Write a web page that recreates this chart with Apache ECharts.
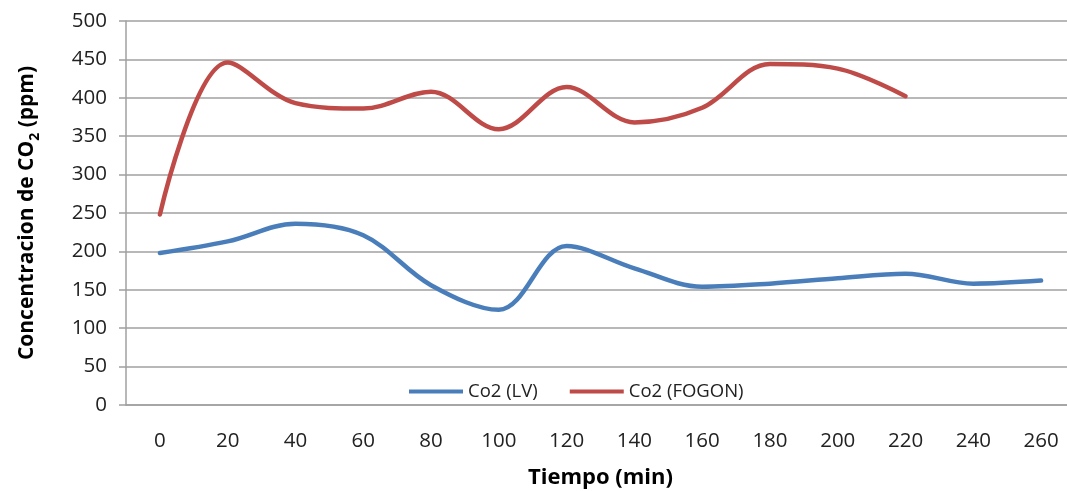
<!DOCTYPE html>
<html>
<head>
<meta charset="utf-8">
<script src="https://cdn.jsdelivr.net/npm/echarts@6/dist/echarts.min.js"></script>
<style>
  html, body { margin: 0; padding: 0; background: #fff; }
  #chart { width: 1067px; height: 491px; }
</style>
</head>
<body>
<div id="chart"></div>
<script>
// tiempo (min)
const categories = ['0', '20', '40', '60', '80', '100', '120', '140', '160', '180', '200', '220', '240', '260']
// Co2 (LV)
const lvValues = [198, 213, 236, 221, 156, 124, 207, 178, 154, 158, 165, 171, 158, 162]
// Co2 (FOGON), sin datos despues de 220
const fogonValues = [248, 446, 393, 386, 408, 359, 414, 368, 387, 444, 438, 402]

const font = 'Open Sans'
const gridColor = '#a0a0a0'

const myChart = echarts.init(document.getElementById('chart'))

const option = {
  animation: false,
  textStyle: { fontFamily: font },
  grid: { left: 126, top: 21, width: 949, height: 384, outerBoundsMode: 'none' },
  legend: {
    left: 404,
    top: 377,
    icon: 'rect',
    itemWidth: 54,
    itemHeight: 4,
    itemGap: 32,
    textStyle: { fontFamily: font, fontSize: 18.5, color: '#222' },
    data: ['Co2 (LV)', 'Co2 (FOGON)']
  },
  xAxis: {
    type: 'category',
    data: categories,
    boundaryGap: true,
    name: 'Tiempo (min)',
    nameLocation: 'middle',
    nameGap: 62,
    nameTextStyle: { fontFamily: font, fontSize: 22, fontWeight: 'bold', color: '#000' },
    axisLine: { lineStyle: { color: gridColor, width: 1.5 } },
    axisTick: { show: false },
    axisLabel: { margin: 26, fontSize: 20.5, color: '#222' }
  },
  yAxis: {
    type: 'value',
    min: 0,
    max: 500,
    interval: 50,
    name: '{t|Concentracion de CO}{s|2}{t| (ppm)}',
    nameLocation: 'middle',
    nameRotate: 90,
    nameGap: 88,
    nameTextStyle: {
      rich: {
        t: { fontFamily: font, fontSize: 21, fontWeight: 'bold', color: '#000', lineHeight: 26, verticalAlign: 'bottom' },
        s: { fontFamily: font, fontSize: 14, fontWeight: 'bold', color: '#000', lineHeight: 20, verticalAlign: 'bottom', padding: [0, 0, -4, 0] }
      }
    },
    axisLine: { show: true, lineStyle: { color: gridColor, width: 1.5 } },
    axisTick: { show: true, length: 7, lineStyle: { color: gridColor, width: 1.5 } },
    axisLabel: { margin: 19, fontSize: 20.5, color: '#222' },
    splitLine: { lineStyle: { color: gridColor, width: 1.5 } }
  },
  series: [
    {
      name: 'Co2 (LV)',
      type: 'line',
      data: lvValues,
      smooth: 0.35,
      showSymbol: false,
      color: '#4a7ebb',
      lineStyle: { width: 4.5, cap: 'round' }
    },
    {
      name: 'Co2 (FOGON)',
      type: 'line',
      data: fogonValues,
      smooth: 0.35,
      showSymbol: false,
      color: '#be4b48',
      lineStyle: { width: 4.5, cap: 'round' }
    }
  ]
}

myChart.setOption(option)
</script>
</body>
</html>
